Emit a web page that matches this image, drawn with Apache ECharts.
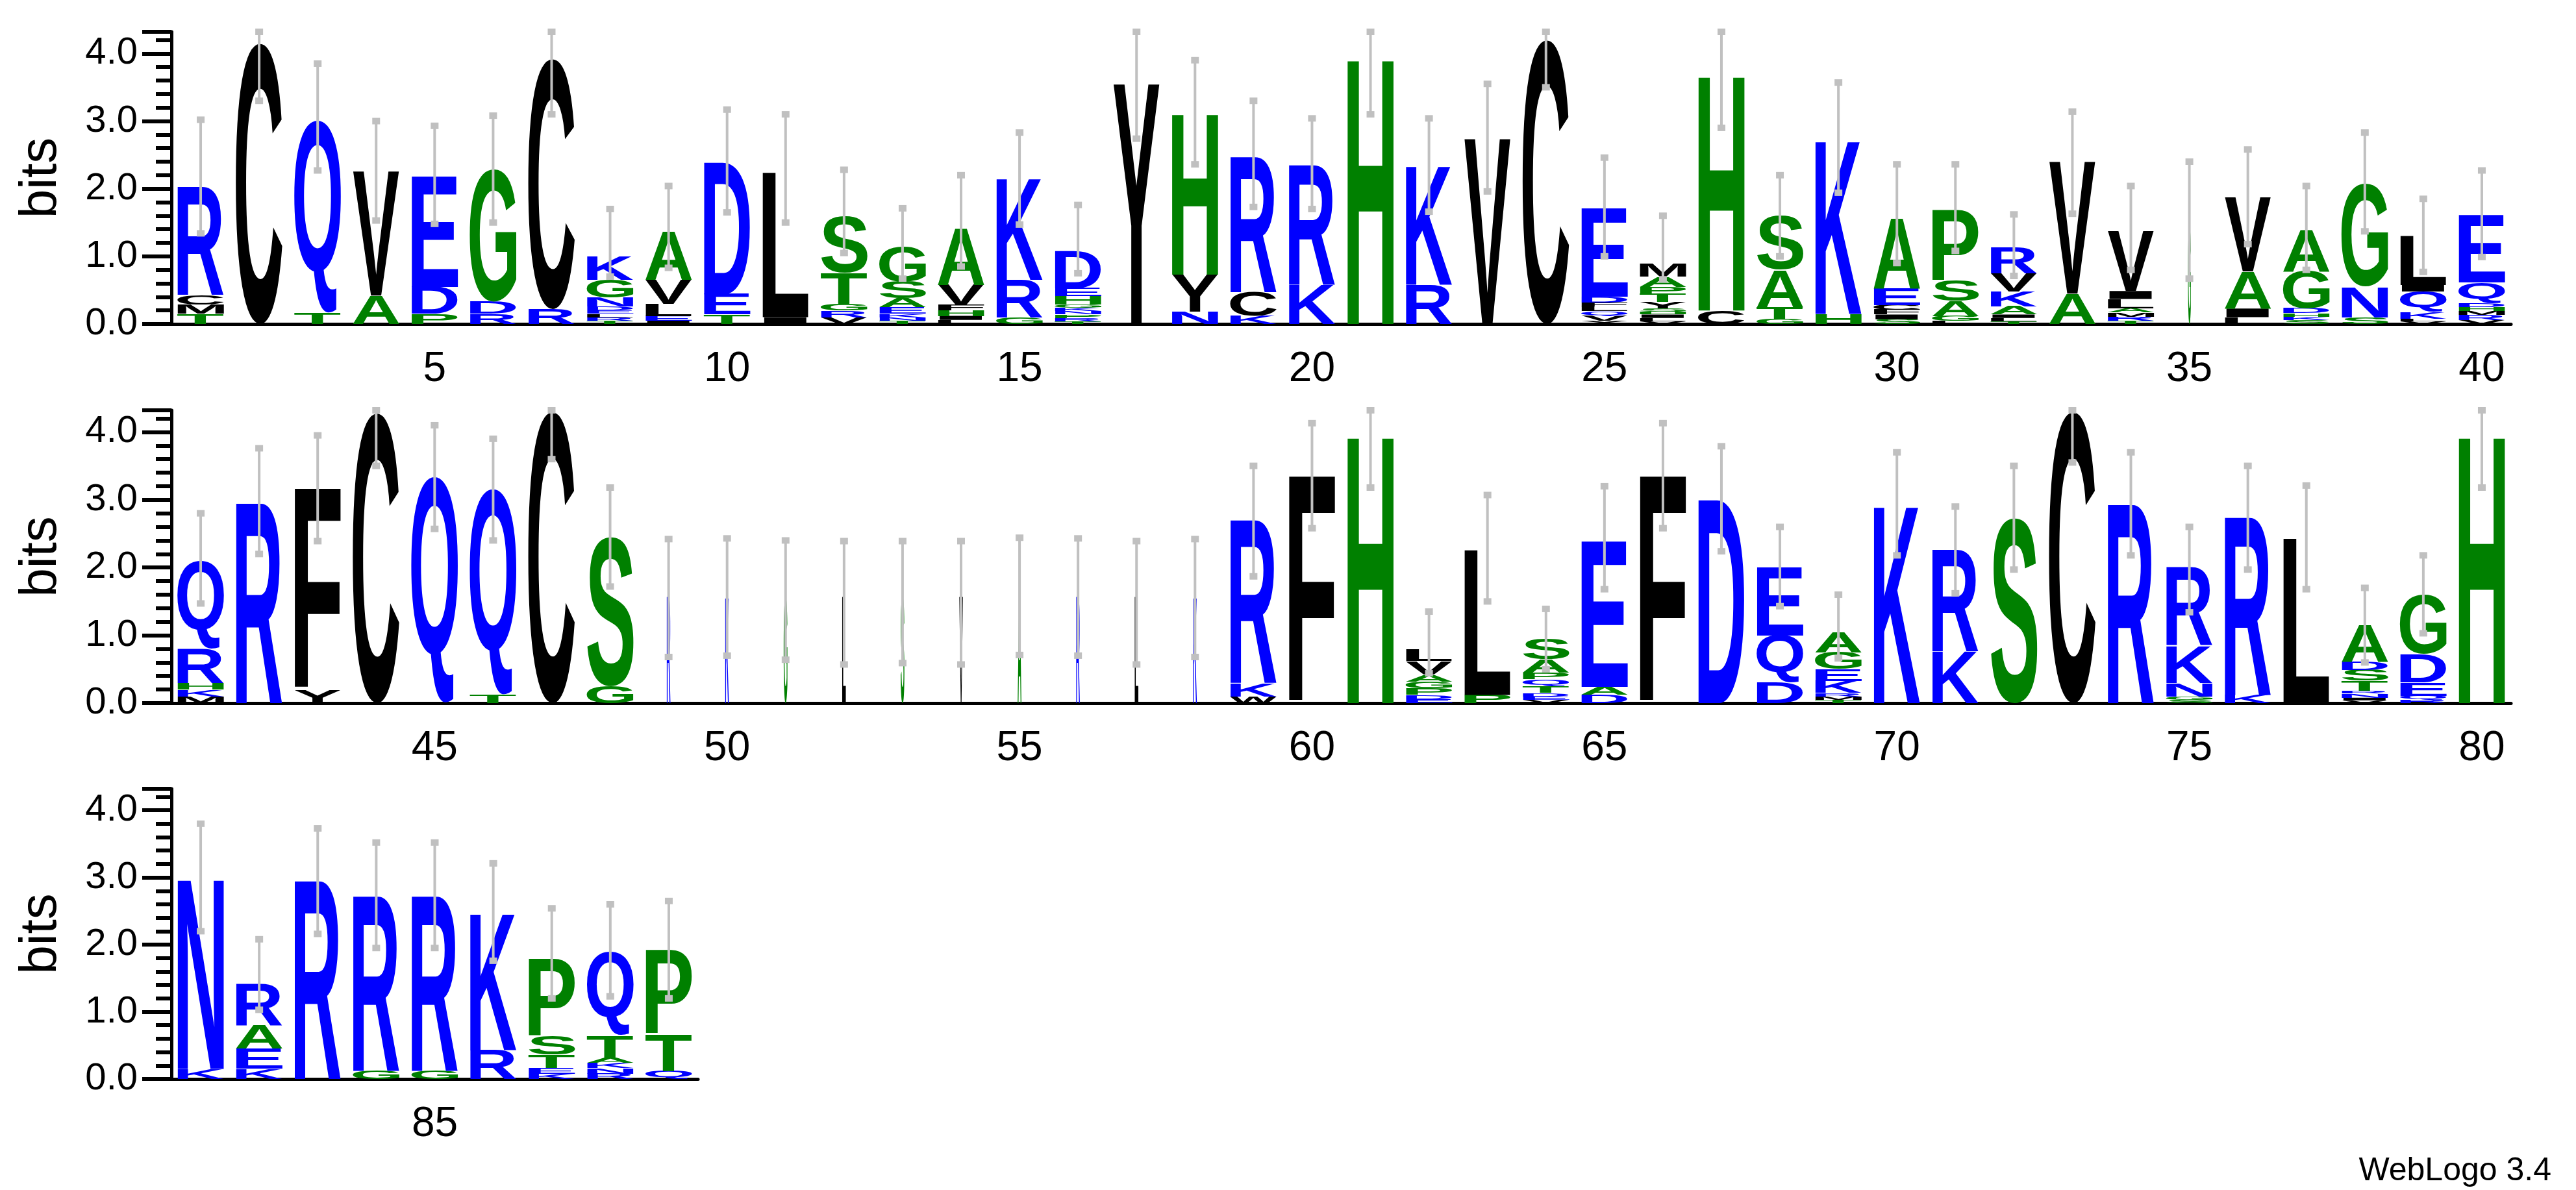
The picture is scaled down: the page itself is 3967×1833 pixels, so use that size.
<!DOCTYPE html>
<html><head><meta charset="utf-8">
<script src="https://cdn.jsdelivr.net/npm/echarts@6/dist/echarts.min.js"></script>
<style>html,body{margin:0;padding:0;background:#fff}#c{width:3967px;height:1833px}</style>
</head><body><div id="c"></div>
<script>
// categories (sequence positions)
const positions1 = [1,2,3,4,5,6,7,8,9,10,11,12,13,14,15,16,17,18,19,20,21,22,23,24,25,26,27,28,29,30,31,32,33,34,35,36,37,38,39,40];
const positions2 = [41,42,43,44,45,46,47,48,49,50,51,52,53,54,55,56,57,58,59,60,61,62,63,64,65,66,67,68,69,70,71,72,73,74,75,76,77,78,79,80];
const positions3 = [81,82,83,84,85,86,87,88,89];
const yTicks = [0,1,2,3,4];
// letter stacks (bottom -> top), bits
const stacks1 = [
 "T:.15,M:.14,C:.14,R:1.6", "C:4.15", "T:.16,Q:2.85", "A:.42,V:1.84", "P:.15,D:.4,E:1.64",
 "R:.15,D:.18,G:1.96", "R:.22,C:3.7", "T:.05,R:.05,L:.05,E:.05,D:.06,N:.13,G:.26,K:.35", "I:.05,E:.07,L:.18,V:.35,A:.72", "T:.14,E:.3,D:1.95",
 "I:.1,L:2.14", "V:.1,R:.1,G:.1,T:.46,S:.84", "T:.05,N:.05,K:.05,E:.1,A:.13,S:.25,G:.52", "L:.06,I:.06,H:.08,F:.08,V:.3,A:.85", "G:.1,R:.55,K:1.51",
 "T:.04,R:.05,P:.05,N:.05,K:.05,G:.05,H:.12,E:.12,D:.55", "Y:3.55", "N:.18,Y:.55,H:2.4", "K:.12,C:.35,R:2.0", "K:.58,R:1.77",
 "H:3.95", "R:.58,K:1.77", "V:2.74", "C:4.2", "Y:.05,V:.07,Q:.07,L:.07,F:.06,D:.08,E:1.3",
 "V:.04,L:.05,I:.05,H:.04,S:.05,Y:.1,T:.12,P:.1,A:.15,M:.2", "C:.2,H:3.5", "G:.07,T:.18,A:.55,S:.8", "H:.15,K:2.58", "S:.07,I:.07,F:.07,C:.07,E:.25,A:1.05",
 "L:.05,G:.07,A:.22,S:.3,P:1.05", "T:.04,L:.05,I:.05,A:.12,K:.22,V:.27,R:.38", "A:.45,V:1.95", "T:.05,R:.06,M:.06,A:.06,L:.14,I:.12,V:.88", "G:1.45",
 "L:.1,I:.13,A:.55,V:1.1", "S:.06,K:.05,H:.05,D:.07,G:.55,A:.62", "S:.1,N:.45,G:1.52", "V:.04,L:.04,K:.1,Q:.3,I:.1,L:.72", "V:.06,R:.07,M:.06,H:.06,D:.06,Q:.3,E:1.0"
];
const stacks2 = [
 "M:.1,K:.1,H:.1,R:.5,Q:1.3", "R:2.95", "Y:.2,F:2.97", "C:4.28", "Q:3.34",
 "T:.12,Q:3.04", "C:4.3", "G:.25,S:2.2", "R:1.57", "K:1.57",
 "G:1.57", "L:1.57", "S:1.57", "V:1.57", "A:1.57",
 "R:1.57", "L:1.57", "K:1.57", "W:.1,K:.2,R:2.4", "F:3.35",
 "H:3.97", "E:.06,D:.06,P:.1,G:.1,A:.1,V:.2,L:.17", "P:.12,L:2.14", "V:.05,E:.05,D:.05,T:.1,Q:.1,P:.1,A:.2,S:.3", "D:.12,A:.12,E:2.15",
 "F:3.35", "D:3.0", "D:.3,Q:.7,E:1.0", "T:.05,M:.05,R:.05,K:.18,E:.17,G:.25,A:.3", "K:2.93",
 "K:.77,R:1.5", "S:2.73", "C:4.3", "R:2.93", "S:.05,G:.05,N:.2,K:.55,R:1.15",
 "K:.12,R:2.62", "L:2.43", "V:.04,I:.04,N:.06,R:.04,T:.15,S:.16,D:.12,A:.55", "R:.05,Q:.06,E:.2,D:.42,G:.87", "H:3.97"
];
const stacks3 = [
 "K:.15,N:2.85", "K:.15,E:.3,A:.35,R:.62", "R:2.95", "G:.12,R:2.6", "G:.12,R:2.6",
 "R:.43,K:2.05", "K:.08,E:.08,T:.2,S:.28,P:1.16", "R:.08,N:.08,K:.08,A:.08,T:.33,Q:1.25", "Q:.12,T:.55,P:1.25"
];
// column width weights
const weights1 = [1,1,1,1,1,1,1,1,1,1,1,1,1,1,1,1,1,1,1,1,1,1,1,1,1,1,1,1,1,1,1,1,1,1,0.06,1,1,1,1,1];
const weights2 = [1,1,1,1,1,1,1,1,0.08,0.08,0.08,0.08,0.08,0.08,0.08,0.08,0.08,0.08,1,1,1,1,1,1,1,1,1,1,1,1,1,1,1,1,1,1,1,1,1,1];
const weights3 = [1,1,1,1,1,1,1,1,1];
// error bars
const errLow1 = [1.34,3.3,2.27,1.53,1.48,1.5,3.1,0.7,0.83,1.65,1.5,1.05,0.67,0.85,1.47,0.75,2.74,2.36,1.73,1.7,3.1,1.66,1.96,3.5,1.0,0.66,2.9,1.0,1.94,0.9,1.08,0.71,1.63,0.8,0.67,1.18,0.8,1.37,0.77,0.99];
const errHigh1 = [3.02,4.32,3.85,3.0,2.93,3.08,4.32,1.7,2.04,3.17,3.1,2.28,1.71,2.2,2.83,1.76,4.32,3.9,3.3,3.04,4.32,3.04,3.55,4.32,2.46,1.6,4.32,2.2,3.57,2.36,2.36,1.62,3.14,2.04,2.4,2.58,2.04,2.83,1.85,2.27];
const errLow2 = [1.47,2.2,2.39,3.5,2.57,2.4,3.6,1.72,0.68,0.7,0.64,0.57,0.59,0.57,0.71,0.7,0.57,0.68,1.87,2.58,3.18,0.44,1.5,0.5,1.68,2.58,2.24,1.43,0.66,2.18,1.62,1.97,3.55,2.18,1.34,1.97,1.68,0.6,1.03,3.18];
const errHigh2 = [2.8,3.76,3.95,4.32,4.1,3.9,4.32,3.18,2.42,2.43,2.4,2.39,2.39,2.39,2.44,2.43,2.39,2.42,3.5,4.13,4.32,1.35,3.07,1.39,3.2,4.13,3.79,2.6,1.6,3.7,2.9,3.5,4.32,3.7,2.6,3.5,3.21,1.7,2.18,4.32];
const errLow3 = [2.2,1.03,2.16,1.95,1.95,1.76,1.2,1.23,1.2];
const errHigh3 = [3.8,2.08,3.73,3.52,3.52,3.21,2.54,2.6,2.65];

const BLUE='#0000ff', GREEN='#008000', BLACK='#000000';
const colorOf = L => ('CVLYFMWI'.includes(L)?BLACK:('GSAHTP'.includes(L)?GREEN:BLUE));
const FONT='bold 100px "Liberation Sans", Arial, sans-serif';
const mctx=document.createElement('canvas').getContext('2d');
mctx.font=FONT; mctx.textBaseline='middle'; mctx.textAlign='center';
const metricsCache={};
function metrics(L){ if(!metricsCache[L]){const m=mctx.measureText(L);metricsCache[L]={l:m.actualBoundingBoxLeft,r:m.actualBoundingBoxRight,a:m.actualBoundingBoxAscent,d:m.actualBoundingBoxDescent};} return metricsCache[L]; }
const parse = s => s.split(',').map(t=>{const p=t.split(':');return [p[0],parseFloat(p[1])];});
const rows=[
 {pos:positions1,st:stacks1.map(parse),w:weights1,lo:errLow1,hi:errHigh1},
 {pos:positions2,st:stacks2.map(parse),w:weights2,lo:errLow2,hi:errHigh2},
 {pos:positions3,st:stacks3.map(parse),w:weights3,lo:errLow3,hi:errHigh3}
];
function makeRender(row){
 return function(params, api){
  const ci=api.value(0);
  const base=api.coord([ci,0]);
  const unit=base[1]-api.coord([ci,1])[1];
  const band=api.size([1,0])[0];
  const w=band*0.8*row.w[ci];
  const ch=[]; let y=base[1];
  for(const [L,h] of row.st[ci]){
   const ph=h*unit;
   if(ph>0.3){
    const m=metrics(L);
    const sx=w/(m.l+m.r), sy=ph/(m.a+m.d);
    ch.push({type:'text',x:base[0]-(m.r-m.l)/2*sx,y:y-ph/2-(m.d-m.a)/2*sy,scaleX:sx,scaleY:sy,
      style:{text:L,font:FONT,align:'center',verticalAlign:'middle',fill:colorOf(L)}});
   }
   y-=ph;
  }
  const yl=api.coord([ci,row.lo[ci]])[1], yh=api.coord([ci,row.hi[ci]])[1];
  ch.push({type:'line',shape:{x1:base[0],y1:yl,x2:base[0],y2:yh},style:{stroke:'#c0c0c0',lineWidth:4}});
  ch.push({type:'rect',shape:{x:base[0]-6,y:yl-5,width:12,height:10},style:{fill:'#c0c0c0'}});
  ch.push({type:'rect',shape:{x:base[0]-6,y:yh-5,width:12,height:10},style:{fill:'#c0c0c0'}});
  return {type:'group',children:ch};
 };
}
const grids=[{left:264,right:100,top:49,height:450},{left:264,right:100,top:632,height:451},{left:264,width:811,top:1215,height:447}];
const xAxis=[],yAxis=[],series=[];
rows.forEach((row,i)=>{
 const cats=row.pos.map(String);
 xAxis.push({type:'category',gridIndex:i,data:cats,boundaryGap:true,
  axisLine:{lineStyle:{color:'#000',width:5}},
  axisTick:{alignWithLabel:true,length:10,lineStyle:{color:'#000',width:4},interval:0},
  axisLabel:{interval:(k,v)=>(+v)%5===0,margin:38,fontSize:64,color:'#000',fontFamily:'Liberation Sans, Arial'}});
 xAxis.push({type:'category',gridIndex:i,data:cats,boundaryGap:true,offset:0,
  axisLine:{show:false},axisLabel:{show:false},
  axisTick:{alignWithLabel:true,length:22,lineStyle:{color:'#000',width:4},interval:(k,v)=>(+v)%5===0}});
 yAxis.push({type:'value',gridIndex:i,min:0,max:4.32,interval:1,
  name:'bits',nameLocation:'middle',nameRotate:90,nameGap:160,
  nameTextStyle:{fontSize:80,color:'#000',fontFamily:'Liberation Sans, Arial'},
  splitLine:{show:false},
  axisLine:{show:true,lineStyle:{color:'#000',width:5}},
  axisTick:{show:true,length:45,lineStyle:{color:'#000',width:6}},
  minorTick:{show:true,splitNumber:5,length:24,lineStyle:{color:'#000',width:6}},
  axisLabel:{formatter:v=>yTicks.includes(v)?v.toFixed(1):'',margin:52,fontSize:58,color:'#000',fontFamily:'Liberation Sans, Arial'}});
 series.push({type:'custom',xAxisIndex:2*i,yAxisIndex:i,renderItem:makeRender(row),
  data:row.pos.map((p,k)=>[k,p]),animation:false,silent:true});
});
const chart=echarts.init(document.getElementById('c'));
chart.setOption({animation:false,backgroundColor:'#fff',grid:grids,xAxis,yAxis,series,
 graphic:[{type:'text',right:38,bottom:4,style:{text:'WebLogo 3.4',font:'50px "Liberation Sans", Arial',fill:'#000'}}]});
</script></body></html>
